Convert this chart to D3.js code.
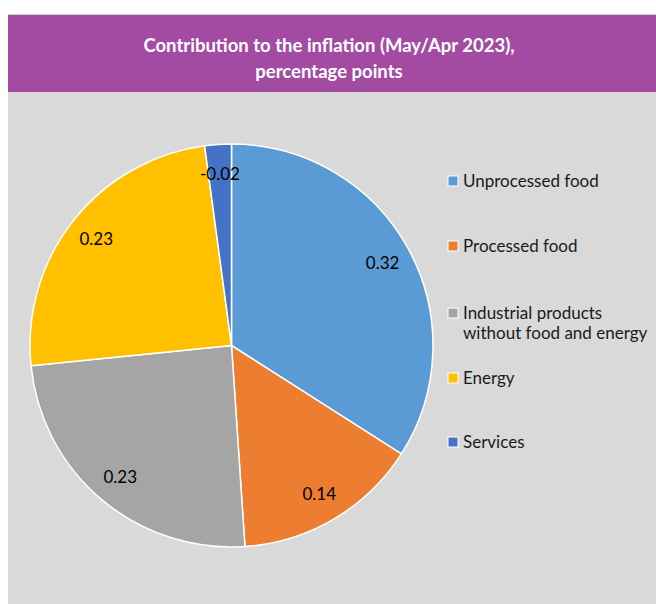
<!DOCTYPE html>
<html>
<head>
<meta charset="utf-8">
<script src="https://cdn.jsdelivr.net/npm/d3@7"></script>
<style>
  body { margin: 0; background: #fff; }
  svg { display: block; font-family: Lato, "Open Sans", sans-serif; }
</style>
</head>
<body>
<svg width="656" height="604"></svg>
<script>
// data
var categories = ["Unprocessed food", "Processed food", "Industrial products\nwithout food and energy", "Energy", "Services"];
var values = [0.32, 0.14, 0.23, 0.23, -0.02];
var colors = ["#5b9bd5", "#ed7d31", "#a5a5a5", "#ffc000", "#4472c4"];
var titleLines = ["Contribution to the inflation (May/Apr 2023),", "percentage points"];

var svg = d3.select("svg");
var width = +svg.attr("width");
var height = +svg.attr("height");

// background panel + header
svg.append("rect").attr("x", 8).attr("y", 92).attr("width", width - 8).attr("height", height - 92).attr("fill", "#d9d9d9");
svg.append("rect").attr("x", 8).attr("y", 14).attr("width", width - 8).attr("height", 78).attr("fill", "#a34aa3");
svg.append("line").attr("x1", 8).attr("x2", width).attr("y1", 14.5).attr("y2", 14.5).attr("stroke", "#d0d0d0");

svg.append("text")
  .attr("x", 329).attr("y", 52)
  .attr("text-anchor", "middle")
  .attr("fill", "#fff")
  .attr("font-weight", "bold")
  .attr("font-size", 18.5)
  .selectAll("tspan")
  .data(titleLines)
  .enter()
  .append("tspan")
  .attr("x", 329)
  .attr("dy", function(d, i) { return i ? 26 : 0; })
  .text(function(d) { return d; });

// pie
var cx = 231.5, cy = 345.5, r = 201.5;
var pie = d3.pie().sort(null).value(function(d) { return Math.abs(d.v); });
var arcs = pie(values.map(function(v, i) { return {v: v, i: i}; }));
var arc = d3.arc().innerRadius(0).outerRadius(r);
var labelArc = d3.arc().innerRadius(r * 0.855).outerRadius(r * 0.855);

var g = svg.append("g").attr("transform", "translate(" + cx + "," + cy + ")");

g.selectAll("path")
  .data(arcs)
  .enter()
  .append("path")
  .attr("d", arc)
  .attr("fill", function(d) { return colors[d.data.i]; })
  .attr("stroke", "#fff")
  .attr("stroke-width", 1.5);

// labels use a plain hyphen for the minus, like the original
g.selectAll(".slice-label")
  .data(arcs)
  .enter()
  .append("text")
  .attr("class", "slice-label")
  .attr("transform", function(d) { return "translate(" + labelArc.centroid(d) + ")"; })
  .attr("text-anchor", "middle")
  .attr("dy", "0.35em")
  .attr("font-size", 17)
  .attr("fill", "#000")
  .text(function(d) { return d.data.v.toFixed(2); });

// legend
var legendY = [181, 246, 313, 378, 442];
var legend = svg.append("g");
var item = legend.selectAll("g")
  .data(categories)
  .enter()
  .append("g")
  .attr("transform", function(d, i) { return "translate(448," + legendY[i] + ")"; });

item.append("rect")
  .attr("x", 0).attr("y", -5)
  .attr("width", 10).attr("height", 10)
  .attr("fill", function(d, i) { return colors[i]; })
  .attr("stroke", "#fff")
  .attr("stroke-width", 1);

item.append("text")
  .attr("x", 15)
  .attr("y", 0)
  .attr("font-size", 17)
  .attr("fill", "#1a1a1a")
  .selectAll("tspan")
  .data(function(d) { return d.split("\n"); })
  .enter()
  .append("tspan")
  .attr("x", 15)
  .attr("dy", function(d, i) { return i ? "1.2em" : "0.35em"; })
  .text(function(d) { return d; });
</script>
</body>
</html>
